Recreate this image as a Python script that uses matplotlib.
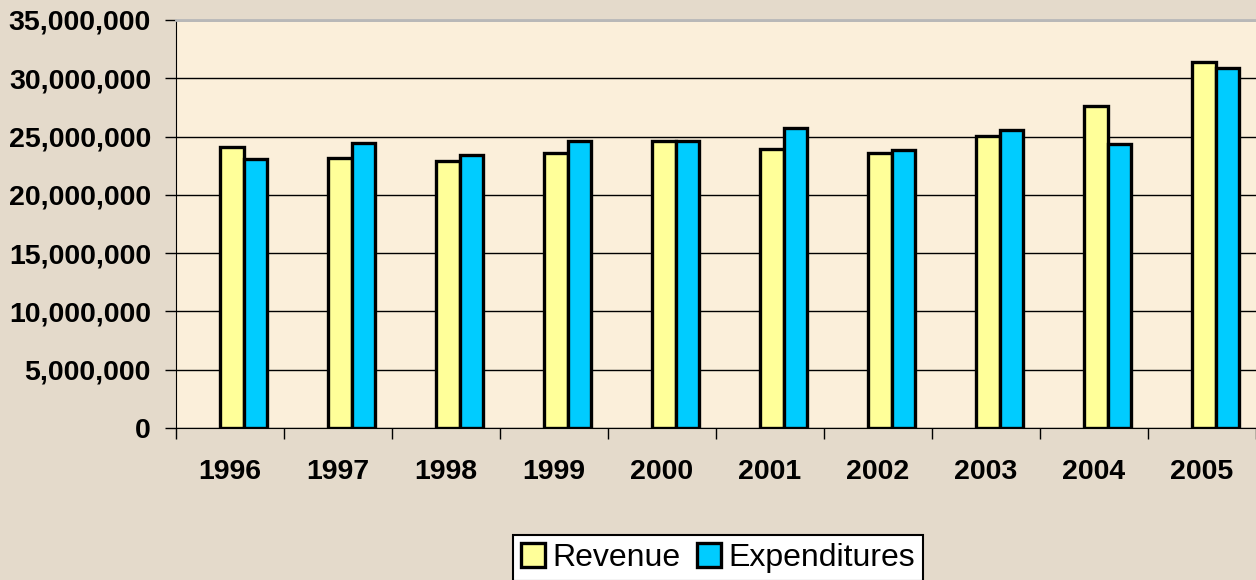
import matplotlib.pyplot as plt
import numpy as np
from matplotlib.ticker import FuncFormatter, FixedLocator

years = ["1996", "1997", "1998", "1999", "2000", "2001", "2002", "2003", "2004", "2005"]
revenue = [24100000, 23150000, 22900000, 23600000, 24600000, 23900000, 23600000, 25050000, 27600000, 31400000]
expenditures = [23050000, 24450000, 23400000, 24600000, 24650000, 25700000, 23850000, 25550000, 24350000, 30900000]

plt.rcParams['font.family'] = ['Liberation Sans', 'DejaVu Sans']

fig = plt.figure(figsize=(12.56, 5.8), dpi=100)
fig.patch.set_facecolor('#E4DACB')
ax = fig.add_axes([176 / 1256, 1 - 428 / 580, 1 - 176 / 1256, 408 / 580])
ax.set_facecolor('#FBEFDA')

x = np.arange(len(years))
w = 0.218
ax.bar(x + 0.02, revenue, w, color='#FFFF99', edgecolor='black', linewidth=2.4,
       label='Revenue', zorder=3)
ax.bar(x + 0.02 + w, expenditures, w, color='#00CCFF', edgecolor='black', linewidth=2.4,
       label='Expenditures', zorder=3)

ax.set_xlim(-0.5, len(years) - 0.5)
ax.set_ylim(0, 35000000)
ax.set_yticks(np.arange(0, 35000001, 5000000))
ax.yaxis.set_major_formatter(FuncFormatter(lambda v, p: f"{int(v):,}"))
ax.yaxis.grid(True, color='black', linewidth=1, zorder=1)

ax.xaxis.set_major_locator(FixedLocator(np.arange(-0.5, len(years), 1.0)))
ax.xaxis.set_minor_locator(FixedLocator(x))
ax.set_xticklabels([])
ax.set_xticklabels(years, minor=True)
ax.tick_params(axis='x', which='major', length=8, width=1, direction='out', color='black')
ax.tick_params(axis='x', which='minor', length=0, pad=22, labelsize=20.5)
ax.tick_params(axis='y', length=8, width=1, direction='out', labelsize=20.5, pad=10)
for lab in ax.get_yticklabels() + ax.get_xticklabels(minor=True):
    lab.set_fontweight('bold')

ax.spines['top'].set_color('#B8B8B8')
ax.spines['top'].set_linewidth(2)
ax.spines['right'].set_visible(False)
ax.spines['left'].set_color('black')
ax.spines['bottom'].set_color('black')

leg = fig.legend(loc='upper center', bbox_to_anchor=(718 / 1256, 1 - 535 / 580), ncol=2,
                 fontsize=23, frameon=True, fancybox=False, edgecolor='black',
                 handlelength=0.75, handleheight=0.75, handletextpad=0.25,
                 columnspacing=0.5, borderpad=0.25, borderaxespad=0)
leg.get_frame().set_linewidth(1.5)
leg.get_frame().set_facecolor('white')
leg.get_frame().set_alpha(1)

fig.savefig('out.png', dpi=100, facecolor=fig.get_facecolor())
